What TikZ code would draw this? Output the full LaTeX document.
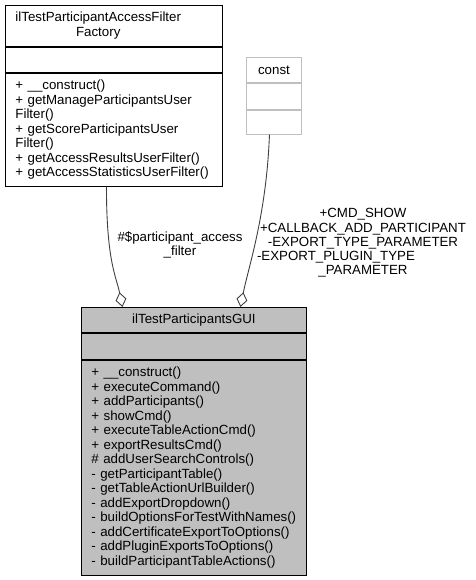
\documentclass[tikz,border=0pt]{standalone}
\usepackage{fontspec}
\setmainfont{Liberation Sans}
\usetikzlibrary{positioning, arrows.meta}

\begin{document}
\begin{tikzpicture}[x=1pt, y=-1pt, line width=0.9pt,
    classpart/.style={draw, rectangle, inner xsep=10pt, inner ysep=0pt, font=\fontsize{13.3}{14.5}\selectfont},
    titlepart/.style={classpart, align=center},
    opspart/.style={classpart, align=left},
    edgelabel/.style={inner sep=0pt, align=center, font=\fontsize{13.3}{14.3}\selectfont},
    aggr/.style={-{Diamond[fill=white, length=15pt, width=11pt]}}]
  \useasboundingbox (0,0) rectangle (475,580);
  % access filter factory
  \node [opspart, text width=197pt, minimum height=41pt, anchor=north west] (factory) at (5,5) {\begin{tabular}{@{}c@{}}ilTestParticipantAccessFilter\\Factory\end{tabular}};
  \node [classpart, minimum width=217pt, minimum height=25pt, below=0pt of factory] (factory_attrs) {};
  \node [opspart, text width=197pt, minimum height=113pt, below=0pt of factory_attrs] (factory_ops) {+ \_\_construct()\\+ getManageParticipantsUser\\Filter()\\+ getScoreParticipantsUser\\Filter()\\+ getAccessResultsUserFilter()\\+ getAccessStatisticsUserFilter()};
  % const
  \node [titlepart, draw=black!25, text width=35pt, minimum height=25pt, anchor=north west] (const) at (246,57) {const};
  \node [classpart, draw=black!25, minimum width=55pt, minimum height=26pt, below=0pt of const] (const_attrs) {};
  \node [classpart, draw=black!25, minimum width=55pt, minimum height=24pt, below=0pt of const_attrs] (const_ops) {};
  % participants gui
  \node [titlepart, fill=black!25, text width=205pt, minimum height=25pt, anchor=north west] (gui) at (81,307) {ilTestParticipantsGUI};
  \node [classpart, fill=black!25, minimum width=225pt, minimum height=26pt, below=0pt of gui] (gui_attrs) {};
  \node [opspart, fill=black!25, text width=205pt, minimum height=215pt, below=0pt of gui_attrs] (gui_ops) {+ \_\_construct()\\+ executeCommand()\\+ addParticipants()\\+ showCmd()\\+ executeTableActionCmd()\\+ exportResultsCmd()\\\# addUserSearchControls()\\- getParticipantTable()\\- getTableActionUrlBuilder()\\- addExportDropdown()\\- buildOptionsForTestWithNames()\\- addCertificateExportToOptions()\\- addPluginExportsToOptions()\\- buildParticipantTableActions()};
  % relations
  \draw [aggr, black!75] ([xshift=-7.5pt]factory_ops.south) .. controls +(0,75) and +(-6,-30) .. ([xshift=-71.5pt]gui.north);
  \draw [aggr, black!75] ([xshift=-4.5pt]const_ops.south) .. controls +(-3,80) and +(8,-40) .. ([xshift=46.5pt]gui.north);
  \node [edgelabel] (filter_label) at (180,245) {\#\$participant\_access\\\_filter};
  \node [edgelabel] (const_label) at (363,243) {+CMD\_SHOW\\+CALLBACK\_ADD\_PARTICIPANT\\-EXPORT\_TYPE\_PARAMETER\\-EXPORT\_PLUGIN\_TYPE\rule{54pt}{0pt}\\\_PARAMETER};
\end{tikzpicture}
\end{document}
